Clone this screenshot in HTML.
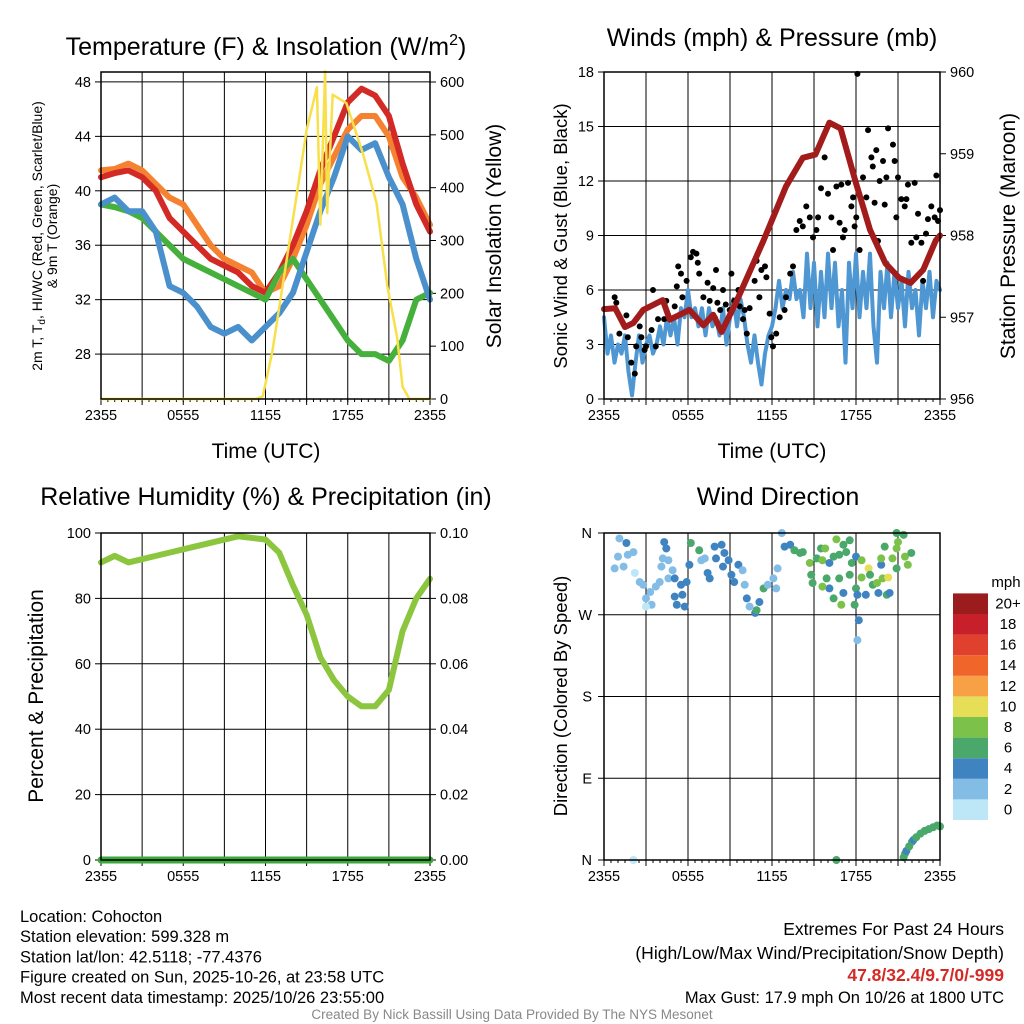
<!DOCTYPE html>
<html><head><meta charset="utf-8"><style>
body{margin:0;background:#fff;font-family:"Liberation Sans",sans-serif}
svg{display:block}
text{font-family:"Liberation Sans",sans-serif}
</style></head><body>
<svg id="c" width="1024" height="1024" viewBox="0 0 1024 1024" xmlns="http://www.w3.org/2000/svg"></svg>
<script>
const hours=[0,1,2,3,4,5,6,7,8,9,10,11,12,13,14,15,16,17,18,19,20,21,22,23,24];
const tRed=[41,41.3,41.5,41,40,38,37,36,35,34.5,34,33,32.5,34,36,38.5,41.5,44,46.5,47.5,47,45.5,42,39,37];
const tOrange=[41.5,41.6,42,41.5,40.5,39.5,39,37.5,36,35,34.5,34,32.5,33,35,37.5,40.5,42.5,44.5,45.5,45.5,44,41,39.5,37.5];
const tGreen=[39,38.8,38.5,38,37,36,35,34.5,34,33.5,33,32.5,32,34,35,33.5,32,30.5,29,28,28,27.5,29,32,32.5];
const tBlue=[39,39.5,38.5,38.5,37,33,32.5,31.5,30,29.5,30,29,30,31,32.5,35.5,38.5,41,44,43,43.5,41,39,35,32];
const solarH=[0,11.3,11.8,12.5,13.8,15.0,15.75,16.0,16.35,16.5,16.9,17.9,19.1,20.1,20.9,21.6,22.0,22.5,24];
const solar=[0,0,5,90,306,509,590,330,620,352,576,560,465,371,212,117,23,0,0];
const wind=[4.5,2.5,3.5,2,3,2.5,3.5,1.5,
0.2,2,3.5,2,3,3.5,2.5,3,
4,3,4.5,3.5,4.5,3,5,4.5,
6,4.5,5,4,5,3.5,5,4,
4.5,3.5,5,3,4.5,5.5,4,5.5,
4.5,3,2,3.5,2,0.8,2.5,3.5,
4,5,6.5,5,6,5.5,7,5.5,
6,4.5,8,5,7.5,4,7,4.5,
8,5,7.5,4,6,2,7.5,5,
8,4.5,7,5,8,4,2,7,
5,7.5,4.5,7,5,6.5,4,7,
5,6,3.5,6.5,5,7,4.5,6.5,
6];
const presH=[0,0.8,1.5,2.1,2.8,4.2,4.7,6.1,7.1,7.8,8.4,9.4,11.4,13.0,14.2,15.1,16.1,16.9,18,19,20.1,21.1,21.9,22.8,23.7,24];
const pres=[957.1,957.11,956.88,956.93,957.09,957.21,956.97,957.09,956.9,957.03,956.82,957.17,957.94,958.6,958.95,958.99,959.38,959.31,958.64,958.07,957.66,957.48,957.42,957.58,957.94,958.0];
const gustH=[0.76,0.88,1.1,1.6,1.7,1.95,2.2,2.3,2.55,2.67,2.9,3.0,3.4,3.5,3.7,3.86,4.3,4.45,5.05,5.2,5.3,5.5,5.6,5.9,6.2,6.36,6.6,6.7,6.8,7.1,7.4,7.55,7.8,8.0,8.1,8.3,8.5,8.7,8.98,9.1,9.3,9.6,9.7,9.93,10.05,10.2,10.4,10.76,10.9,11.1,11.24,11.5,11.6,11.83,11.95,12.07,12.3,12.55,12.9,13.0,13.3,13.5,13.74,13.98,14.2,14.45,14.7,14.93,15.17,15.29,15.5,15.76,16.0,16.24,16.36,16.6,16.83,16.95,17.07,17.19,17.43,17.67,17.79,17.9,18.02,18.26,18.1,18.5,18.74,18.86,19.1,19.2,19.33,19.45,19.57,19.69,19.93,20.05,20.17,20.29,20.64,20.76,20.88,21.0,21.24,21.48,21.6,21.71,21.95,22.19,22.31,22.43,22.67,22.79,23.0,23.14,23.38,23.62,23.74,23.86,24];
const gust=[5.6,5.3,3.6,4.6,3.4,2,1.4,2.9,4,3.4,2.7,2.9,3.8,6,2.9,4.4,4.4,5.4,5.1,6.2,7.3,6.9,5.6,6.5,7.8,8.1,8,7.5,6.9,5.6,6.4,5.4,6.1,7.1,5.3,4.9,6,5.2,4.9,6.9,5.4,6,5.1,4.4,4.9,3.6,5,6.5,7.6,5.6,7.1,7.3,6.7,4.7,3.4,2.9,3.6,4.5,4.9,5.6,6.9,7.3,9.3,9.8,9.5,10.6,10,8.9,9.3,10,11.6,13.3,11.3,10,8.2,11.7,9.7,11.8,8.9,9.3,11.9,10.6,11.1,9.5,10,8.2,17.9,12.2,11.1,14.8,13.3,12.8,10.8,13.7,8.7,12,13.1,10.7,12.2,14.9,14,13.1,10,12.2,11,10.6,11,11.8,8.6,11.9,8.9,10.2,8.6,6.5,9.1,9.9,10.6,10,12.3,9.8,10.4];
const rhH=[0,1,2,3,4,5,6,7,8,9,10,11,12,13,14,15,16,17,18,19,20,21,22,23,24];
const rh=[91,93,91,92,93,94,95,96,97,98,99,98.5,98,94,84,75,62,55,50,47,47,52,70,80,86];
const dirH=[0.76,1.0,1.1,1.6,1.7,2.1,1.4,2.2,2.55,2.8,3.3,3.0,3.4,3.0,3.7,3.98,4.3,4.45,4.2,4.6,4.1,4.6,4.9,5.05,5.5,5.9,5.05,5.2,5.6,5.76,6.1,6.2,6.8,6.95,7.2,7.4,7.55,7.9,8.0,8.4,8.6,8.9,8.5,9.1,9.3,9.6,9.9,10.05,10.2,10.4,10.8,10.9,11.1,11.4,11.7,12.1,12.3,12.4,12.7,12.9,13.3,13.6,14.0,14.2,14.7,14.8,15.2,15.5,15.6,15.8,16.1,16.4,16.6,16.8,17.1,17.3,17.55,17.7,17.55,18.0,18.4,18.9,19.0,19.2,18.4,18.0,18.1,18.7,19.5,19.6,19.9,20.3,20.2,20.4,19.8,19.8,20.05,20.6,20.9,20.9,21.0,20.9,21.4,21.5,21.7,21.95,16.4,16.95,17.9,17.1,16.8,15.9,16.1,15.6,14.9,18.2,18.1,2.1,16.6,21.4,21.5,21.6,21.8,22.0,22.1,22.3,22.6,22.9,23.2,23.5,23.8,24];
const dirDeg=[321,334,354,349,336,339,323,316,306,303,295,288,281,279,301,306,350,343,332,330,323,310,319,310,303,306,290,281,292,279,325,349,341,330,332,316,310,345,332,347,338,330,323,314,306,325,319,303,288,279,272,275,284,299,303,310,299,321,360,345,347,341,338,339,327,314,332,343,330,343,327,334,353,336,347,339,352,327,314,334,330,321,314,303,311,299,292,292,305,294,310,311,292,294,325,332,345,332,321,343,350,360,358,334,325,338,288,281,281,294,310,310,299,301,305,264,242,0,0,3,7,10,15,20,22,25,29,32,34,36,38,37];
const dirSpd=[3,3,3,5,3,3,3,1,3,3,3,3,3,1,3,3,5,5,3,3,3,3,3,5,5,5,5,5,5,5,5,7,7,3,3,5,5,5,5,5,5,5,5,5,5,5,3,3,5,3,5,7,5,7,3,3,3,3,3,5,5,7,7,7,9,7,7,7,9,9,5,7,9,7,7,7,7,7,7,5,9,10.5,7,7,9,7,5,5,9,5,9,10.5,7,5,5,9,7,9,7,9,9,7,7,9,9,7,7,9,7,5,7,7,5,9,7,5,3,1,7,7,7,5,7,7,5,7,7,7,7,7,7,7];
const speedColors=['#bde6f7','#83bde6','#3f84c1','#4aa86b','#7cc24a','#e6de56','#f8a046','#f0652a','#e0412f','#c8202a','#9b1c1c'];
const cbLabels=['0','2','4','6','8','10','12','14','16','18','20+'];
const xLabels=['2355','0555','1155','1755','2355'];

const svg=document.getElementById('c');const NS='http://www.w3.org/2000/svg';
function el(t,a,p){const e=document.createElementNS(NS,t);for(const k in a)e.setAttribute(k,a[k]);(p||svg).appendChild(e);return e;}
function txt(x,y,s,size,anchor,extra){const e=el('text',Object.assign({x:x,y:y,'font-size':size,'text-anchor':anchor||'middle',fill:'#000'},extra||{}));e.textContent=s;return e;}

function panel(name,L,R,T,B,yTicks,yMin,yMax,yFmt,rTicks,rMin,rMax,rFmt,yGridVals){
  const g=el('g',{});
  
  
  const sx=h=>L+(R-L)*h/24;
  const sy=v=>B-(B-T)*(v-yMin)/(yMax-yMin);
  const sr=v=>B-(B-T)*(v-rMin)/(rMax-rMin);
  for(let i=1;i<8;i++)el('line',{x1:sx(i*3),x2:sx(i*3),y1:T,y2:B,stroke:'#000','stroke-width':1},g);
  (yGridVals||yTicks).forEach(v=>el('line',{x1:L,x2:R,y1:sy(v),y2:sy(v),stroke:'#000','stroke-width':1},g));
  for(let i=0;i<=8;i++){el('line',{x1:sx(i*3),x2:sx(i*3),y1:B,y2:B+6,stroke:'#000'},g);}
  for(let i=0;i<=48;i++){el('line',{x1:sx(i/2),x2:sx(i/2),y1:B,y2:B+3,stroke:'#000'},g);}
  xLabels.forEach((s,i)=>{const t=txt(sx(i*6),B+21,s,14.5);});
  yTicks.forEach(v=>{el('line',{x1:L-6,x2:L,y1:sy(v),y2:sy(v),stroke:'#000'},g);const t=txt(L-10,sy(v)+5,yFmt(v),14.5,'end');});
  if(rTicks)rTicks.forEach(v=>{el('line',{x1:R,x2:R+6,y1:sr(v),y2:sr(v),stroke:'#000'},g);const t=txt(R+10,sr(v)+5,rFmt(v),14.5,'start');});
  return {g,sx,sy,sr,frame:()=>el('rect',{x:L,y:T,width:R-L,height:B-T,fill:'none',stroke:'#000','stroke-width':1.5})};
}
function line(xs,ys,sx,sy,color,w,name){const p=el('polyline',{points:xs.map((h,i)=>sx(h)+','+sy(ys[i])).join(' '),fill:'none',stroke:color,'stroke-width':w,'stroke-linejoin':'round','stroke-linecap':'round'});
  
  return p;}

// Panel 1
let p1=panel('temperature-panel',101,430,72,399,[28,32,36,40,44,48],24.7,48.73,v=>v,[0,100,200,300,400,500,600],0,600*(399-72)/(399-82),v=>v,[28,32,36,40,44,48]);
line(hours,tOrange,p1.sx,p1.sy,'#f58231',6,'series-orange');
line(hours,tRed,p1.sx,p1.sy,'#d42a25',6,'series-red');
line(hours,tGreen,p1.sx,p1.sy,'#46b03c',6,'series-green');
line(hours,tBlue,p1.sx,p1.sy,'#4a90cc',6,'series-blue');
line(solarH,solar,p1.sx,p1.sr,'#f7e04a',2.5,'series-solar');
p1.frame();
txt(266,55,'',25).innerHTML='Temperature (F) &amp; Insolation (W/m<tspan font-size="16" dy="-10">2</tspan><tspan dy="10">)</tspan>';
txt(266,458,'Time (UTC)',21);
txt(0,0,'Solar Insolation (Yellow)',21,'middle',{transform:'translate(501,236) rotate(-90)'});
const yl=txt(0,0,'',14,'middle',{transform:'translate(42,236) rotate(-90)'});
yl.innerHTML='2m T, T<tspan font-size="10" dy="3">d</tspan><tspan dy="-3">, HI/WC (Red, Green, Scarlet/Blue)</tspan>';
txt(0,0,'& 9m T (Orange)',14,'middle',{transform:'translate(57,236) rotate(-90)'});

// Panel 2
let p2=panel('winds-panel',604,940,72,399,[0,3,6,9,12,15,18],0,18,v=>v,[956,957,958,959,960],956,960,v=>v,[3,6,9,12,15]);
line(wind.map((v,i)=>i*0.25),wind,p2.sx,p2.sy,'#4f97d2',4,'series-wind');
gustH.forEach((h,i)=>{const c=el('circle',{cx:p2.sx(h),cy:p2.sy(gust[i]),r:3,fill:'#000'});
  
  });
line(presH,pres,p2.sx,p2.sr,'#a31c1c',6,'series-pressure');
p2.frame();
txt(772,46,'Winds (mph) & Pressure (mb)',25);
txt(772,458,'Time (UTC)',21);
txt(0,0,'Sonic Wind & Gust (Blue, Black)',18.5,'middle',{transform:'translate(567,236) rotate(-90)'});
txt(0,0,'Station Pressure (Maroon)',21,'middle',{transform:'translate(1015,236) rotate(-90)'});

// Panel 3
let p3=panel('humidity-panel',101,430,533,860,[0,20,40,60,80,100],0,100,v=>v,[0,0.02,0.04,0.06,0.08,0.10],0,0.10,v=>v.toFixed(2),[0,20,40,60,80,100]);
line(rhH,rh,p3.sx,p3.sy,'#8cc63f',6,'series-rh');
line([0,24],[0,0],p3.sx,p3.sr,'#3aa83a',7,'series-precip');
p3.frame();
txt(266,505,'Relative Humidity (%) & Precipitation (in)',25);
txt(0,0,'Percent & Precipitation',21,'middle',{transform:'translate(43,696) rotate(-90)'});

// Panel 4
let p4=panel('wind-direction-panel',604,940,533,860,[],0,360,v=>v,null,0,0,null,[90,180,270]);
['N','E','S','W','N'].forEach((s,i)=>{const y=p4.sy(i*90);el('line',{x1:598,x2:604,y1:y,y2:y,stroke:'#000'});const t=txt(592,y+5,s,14.5,'end');});
dirH.forEach((h,i)=>{const idx=Math.min(10,Math.floor(dirSpd[i]/2));const c=el('circle',{cx:p4.sx(h),cy:p4.sy(dirDeg[i]),r:4,fill:speedColors[idx]});
  
  });
p4.frame();
txt(778,505,'Wind Direction',25);
txt(0,0,'Direction (Colored By Speed)',18.5,'middle',{transform:'translate(567,696) rotate(-90)'});
txt(1006,587,'mph',15);
speedColors.forEach((c,i)=>{const y=820-(i+1)*20.6;const r=el('rect',{x:953,y:y,width:35,height:20.6,fill:c});
  
  
  const t=txt(1008,y+15,cbLabels[i],15);});

// footer
const info=['Location: Cohocton','Station elevation: 599.328 m','Station lat/lon: 42.5118; -77.4376','Figure created on Sun, 2025-10-26, at 23:58 UTC','Most recent data timestamp: 2025/10/26 23:55:00'];
info.forEach((s,i)=>{const t=txt(20,922+i*20.2,s,16.5,'start');});
txt(1004,935,'Extremes For Past 24 Hours',17.5,'end');
txt(1004,959,'(High/Low/Max Wind/Precipitation/Snow Depth)',17.5,'end');
txt(1004,981,'47.8/32.4/9.7/0/-999',17.5,'end',{fill:'#d42a25','font-weight':'bold'});
txt(1004,1003,'Max Gust: 17.9 mph On 10/26 at 1800 UTC',16.5,'end');
txt(512,1019,'Created By Nick Bassill Using Data Provided By The NYS Mesonet',13.5,'middle',{fill:'#888'});
</script>
</body></html>
